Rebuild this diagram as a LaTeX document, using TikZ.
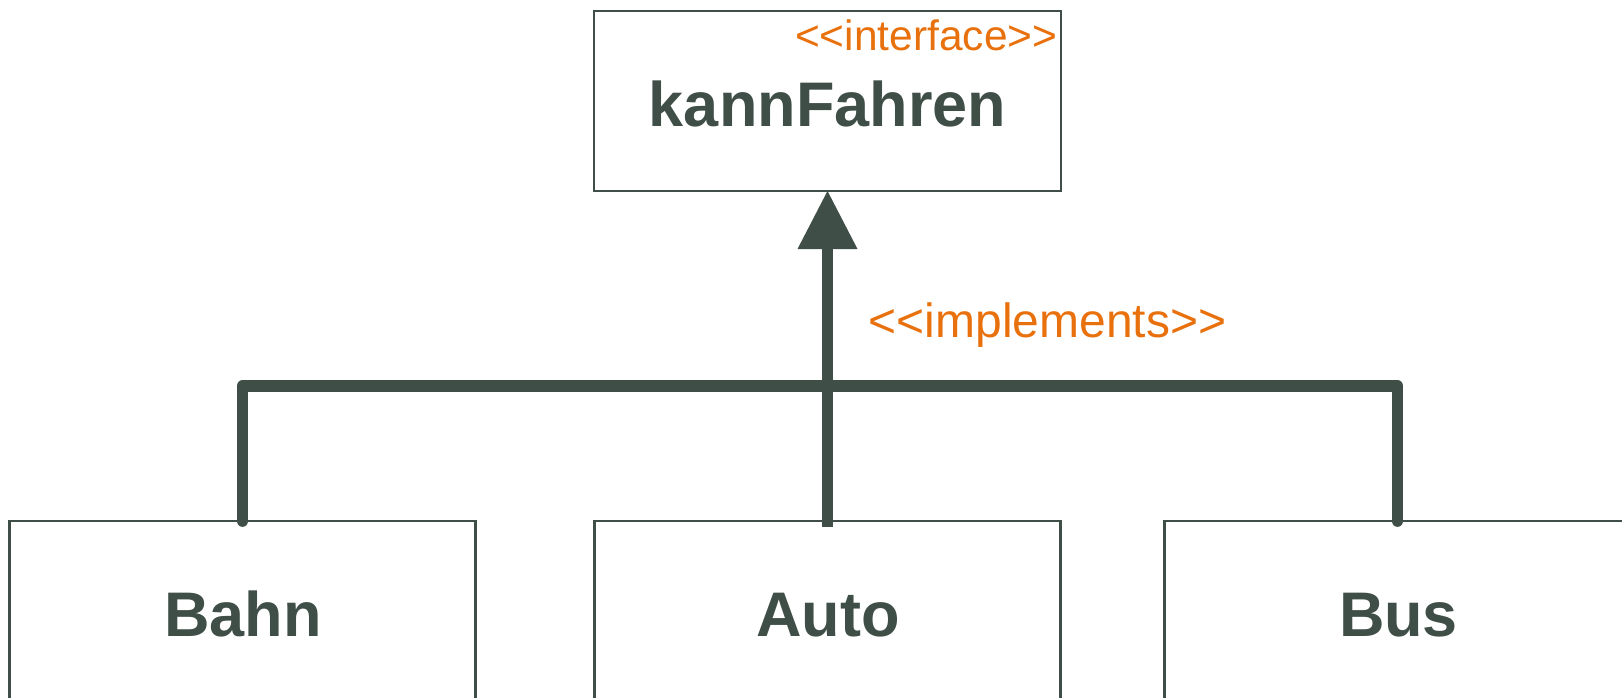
\documentclass[tikz,border=0pt]{standalone}
\usepackage{fontspec}
\setmainfont{Liberation Sans}
\usetikzlibrary{arrows.meta}
\definecolor{umldark}{HTML}{3F4E47}
\definecolor{umlorange}{HTML}{E8710D}
% guillemet-free double angle brackets
\newcommand{\dlt}{\mbox{<}\kern0pt\mbox{<}}
\newcommand{\dgt}{\mbox{>}\kern0pt\mbox{>}}
\tikzset{
  classbox/.style={draw=umldark, line width=2.2pt, fill=white, rectangle,
    inner sep=0pt, outer sep=0pt},
  classname/.style={text=umldark, inner sep=0pt, anchor=base,
    font=\fontsize{63}{70}\selectfont\bfseries},
  stereo/.style={text=umlorange, inner sep=0pt},
  realize/.style={draw=umldark, line width=11.7pt},
}
\begin{document}
\begin{tikzpicture}[x=1pt, y=-1pt]
  \useasboundingbox (0,0) rectangle (1622,697);

  % classes
  \node[classbox, minimum width=467pt, minimum height=180pt] (iface) at (827.5,101) {};
  \node[classbox, minimum width=466pt, minimum height=300pt] (bahn) at (242.5,671) {};
  \node[classbox, minimum width=466pt, minimum height=300pt] (auto) at (827.5,671) {};
  \node[classbox, minimum width=466pt, minimum height=300pt] (bus)  at (1397.5,671) {};

  % class names
  \node[classname] (ifacename) at (827.5,126) {kannFahren};
  \node[stereo, anchor=base east, font=\fontsize{42.5}{50}\selectfont] (ifacestereo) at (1057.5,50) {\dlt interface\dgt};
  \node[classname] (bahnname) at (243,636) {Bahn};
  \node[classname] (autoname) at (828,636) {Auto};
  \node[classname] (busname)  at (1398.5,636) {Bus};

  % realization connectors
  \coordinate (bar) at (827.5,386);
  \draw[realize, line cap=round, line join=round] (bahn.north) |- (bar) -| (bus.north);
  \draw[realize, -{Triangle[length=58pt, width=60pt, line width=0pt]}]
    ([yshift=-6pt]auto.north) -- (iface.south);

  \node[stereo, anchor=base west, font=\fontsize{48}{55}\selectfont] (impl) at (868.5,337) {\dlt implements\dgt};
\end{tikzpicture}
\end{document}
